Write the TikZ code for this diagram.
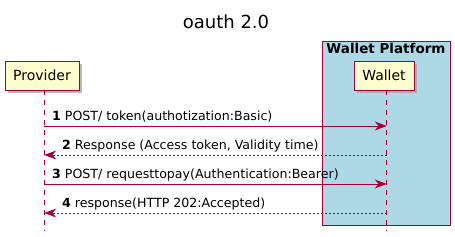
\documentclass[tikz,border=0pt]{standalone}
\usepackage{fontspec}
\setmainfont{DejaVu Sans}
\usepackage{tikz}
\usetikzlibrary{positioning, arrows.meta, calc, shadows}
\definecolor{umlBorder}{RGB}{168,0,54}
\definecolor{umlBox}{RGB}{254,254,206}
\definecolor{platform}{RGB}{173,216,230}
\definecolor{textDark}{RGB}{0,0,0}

\begin{document}
\begin{tikzpicture}[
    x=1pt, y=-1pt,
    every node/.style={text=textDark},
    actor/.style={draw=umlBorder, fill=umlBox, line width=0.9pt, minimum height=29pt,
        inner xsep=6pt, font=\fontsize{14}{16}\selectfont,
        drop shadow={shadow xshift=3pt, shadow yshift=-3pt, fill=black!35, opacity=0.8}},
    lifeline/.style={umlBorder, line width=0.8pt, dash pattern=on 5pt off 5pt},
    callmsg/.style={umlBorder, line width=0.8pt, -{Stealth[length=12pt, width=9pt, inset=4pt]}},
    replymsg/.style={umlBorder, line width=0.8pt, dash pattern=on 2pt off 2pt,
        -{Stealth[length=12pt, width=9pt, inset=4pt]}},
    msglabel/.style={anchor=base west, inner sep=0pt, font=\fontsize{12.6}{14}\selectfont},
]
% Canvas: x in [0, 455], y in [0, 237] (pixels, y downwards)
\useasboundingbox (0,0) rectangle (455,237);

% --- Title ---
\node[font=\fontsize{18}{20}\selectfont] (title) at (226, 22) {oauth 2.0};

% --- Wallet Platform box (drawn first, sits behind lifeline) ---
\draw[umlBorder, fill=platform, line width=0.9pt] (322, 41) rectangle (450, 225.5);
\node[font=\bfseries\fontsize{13.5}{15}\selectfont, inner sep=0pt] (platformlabel)
    at (386, 48.5) {Wallet Platform};

% --- Participants ---
\node[actor, minimum width=74pt] (provider) at (42, 75.5) {Provider};
\node[actor, minimum width=60pt] (wallet) at (384, 75.5) {Wallet};

% --- Lifelines ---
\coordinate (providerEnd) at (44.3, 231);
\coordinate (walletEnd) at (386.7, 231);
\draw[lifeline] (provider.south -| providerEnd) -- (providerEnd);
\draw[lifeline] (wallet.south -| walletEnd) -- (walletEnd);

% --- Message anchors on each lifeline ---
\foreach \i/\y in {1/126, 2/155, 3/184, 4/213} {
    \coordinate (p\i) at (44.3, \y);
    \coordinate (w\i) at (386.7, \y);
}

% --- Messages ---
\draw[callmsg] (p1) -- (w1);
\node[msglabel] (m1) at (52, 121) {\textbf{1} POST/ token(authotization:Basic)};

\draw[replymsg] (w2) -- (p2);
\node[msglabel] (m2) at (62, 150) {\textbf{2} Response (Access token, Validity time)};

\draw[callmsg] (p3) -- (w3);
\node[msglabel] (m3) at (52, 179) {\textbf{3} POST/ requesttopay(Authentication:Bearer)};

\draw[replymsg] (w4) -- (p4);
\node[msglabel] (m4) at (62, 208) {\textbf{4} response(HTTP 202:Accepted)};

\end{tikzpicture}
\end{document}
